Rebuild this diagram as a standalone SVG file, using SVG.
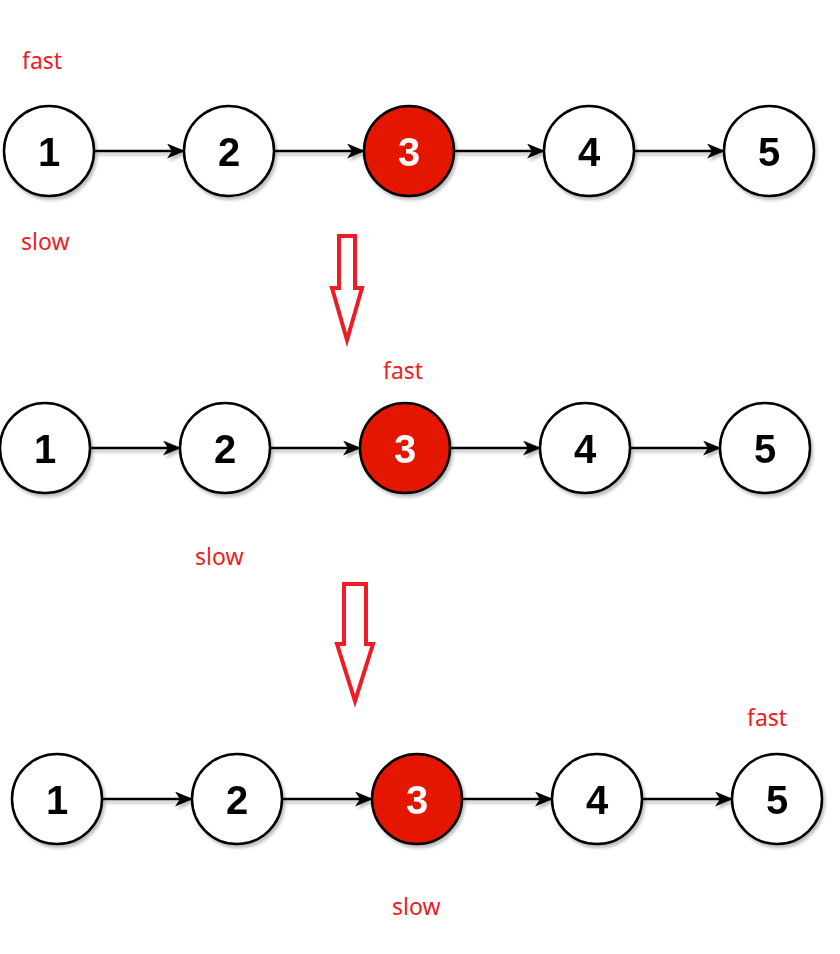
<svg xmlns="http://www.w3.org/2000/svg" width="840" height="954" viewBox="0 0 840 954">
<defs>
<style>
.n circle{stroke:#000;stroke-width:2.5;fill:#fff}
.n.hot circle{fill:#e51400}
.n text{font-family:"Liberation Sans",Arial,sans-serif;font-weight:bold;font-size:40px;text-anchor:middle;fill:#000}
.n.hot text{fill:#fff}
.e line{stroke:#000;stroke-width:2.5}
.lbl{font-family:"Noto Sans","Open Sans",sans-serif;font-size:23px;fill:#ee1c25}
.big{fill:none;stroke:#ee1c25;stroke-width:4;stroke-linejoin:miter}
</style>
<filter id="sh" x="-20%" y="-20%" width="150%" height="150%">
<feDropShadow dx="2" dy="3" stdDeviation="1.5" flood-color="#000" flood-opacity="0.25"/>
</filter>
<marker id="ah" viewBox="0 0 18 15" refX="17" refY="7.5" markerWidth="18" markerHeight="15" markerUnits="userSpaceOnUse" orient="auto">
<path d="M0,0 L18,7.5 L0,15 L5,7.5 Z" fill="#000"/>
</marker>
</defs>
<rect width="840" height="954" fill="#fff"/>

<g id="connectors" filter="url(#sh)">
<g class="e">
<line x1="94" y1="151" x2="184" y2="151" marker-end="url(#ah)"/>
<line x1="274" y1="151" x2="364" y2="151" marker-end="url(#ah)"/>
<line x1="454" y1="151" x2="544" y2="151" marker-end="url(#ah)"/>
<line x1="634" y1="151" x2="724" y2="151" marker-end="url(#ah)"/>
<line x1="90" y1="448" x2="180" y2="448" marker-end="url(#ah)"/>
<line x1="270" y1="448" x2="360" y2="448" marker-end="url(#ah)"/>
<line x1="450" y1="448" x2="540" y2="448" marker-end="url(#ah)"/>
<line x1="630" y1="448" x2="720" y2="448" marker-end="url(#ah)"/>
<line x1="102" y1="799" x2="192" y2="799" marker-end="url(#ah)"/>
<line x1="282" y1="799" x2="372" y2="799" marker-end="url(#ah)"/>
<line x1="462" y1="799" x2="552" y2="799" marker-end="url(#ah)"/>
<line x1="642" y1="799" x2="732" y2="799" marker-end="url(#ah)"/>
</g>
</g>

<g id="row1">
<g id="r1n1" class="n" filter="url(#sh)"><circle cx="49" cy="151" r="45"/><text x="49" y="166">1</text></g>
<g id="r1n2" class="n" filter="url(#sh)"><circle cx="229" cy="151" r="45"/><text x="229" y="166">2</text></g>
<g id="r1n3" class="n hot" filter="url(#sh)"><circle cx="409" cy="151" r="45"/><text x="409" y="166">3</text></g>
<g id="r1n4" class="n" filter="url(#sh)"><circle cx="589" cy="151" r="45"/><text x="589" y="166">4</text></g>
<g id="r1n5" class="n" filter="url(#sh)"><circle cx="769" cy="151" r="45"/><text x="769" y="166">5</text></g>
</g>

<g id="row2">
<g id="r2n1" class="n" filter="url(#sh)"><circle cx="45" cy="448" r="45"/><text x="45" y="463">1</text></g>
<g id="r2n2" class="n" filter="url(#sh)"><circle cx="225" cy="448" r="45"/><text x="225" y="463">2</text></g>
<g id="r2n3" class="n hot" filter="url(#sh)"><circle cx="405" cy="448" r="45"/><text x="405" y="463">3</text></g>
<g id="r2n4" class="n" filter="url(#sh)"><circle cx="585" cy="448" r="45"/><text x="585" y="463">4</text></g>
<g id="r2n5" class="n" filter="url(#sh)"><circle cx="765" cy="448" r="45"/><text x="765" y="463">5</text></g>
</g>

<g id="row3">
<g id="r3n1" class="n" filter="url(#sh)"><circle cx="57" cy="799" r="45"/><text x="57" y="814">1</text></g>
<g id="r3n2" class="n" filter="url(#sh)"><circle cx="237" cy="799" r="45"/><text x="237" y="814">2</text></g>
<g id="r3n3" class="n hot" filter="url(#sh)"><circle cx="417" cy="799" r="45"/><text x="417" y="814">3</text></g>
<g id="r3n4" class="n" filter="url(#sh)"><circle cx="597" cy="799" r="45"/><text x="597" y="814">4</text></g>
<g id="r3n5" class="n" filter="url(#sh)"><circle cx="777" cy="799" r="45"/><text x="777" y="814">5</text></g>
</g>

<g id="labels">
<text class="lbl" x="22" y="69">fast</text>
<text class="lbl" x="21" y="250">slow</text>
<text class="lbl" x="383" y="379">fast</text>
<text class="lbl" x="195" y="565">slow</text>
<text class="lbl" x="747" y="726">fast</text>
<text class="lbl" x="392" y="915">slow</text>
</g>

<g id="big-arrows">
<path id="down1" class="big" d="M339,236 H355 V288 H362 L347,340 L332,288 H339 Z"/>
<path id="down2" class="big" d="M344,584 H366 V644 H373 L355,701 L337,644 H344 Z"/>
</g>
</svg>
